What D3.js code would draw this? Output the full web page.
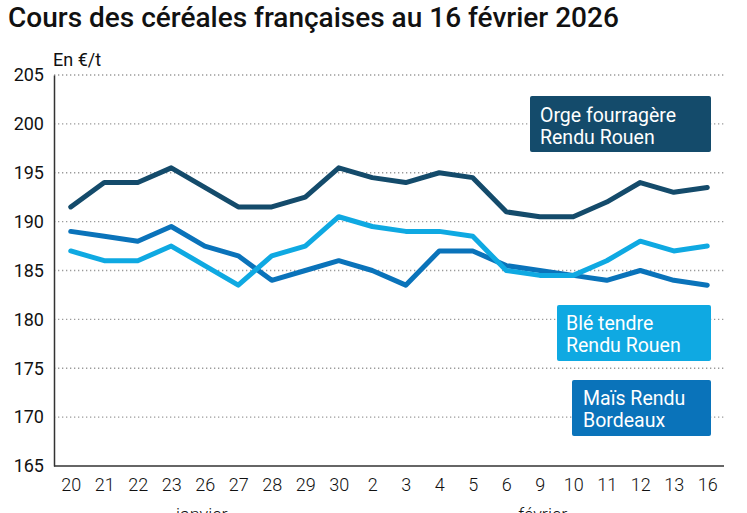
<!DOCTYPE html>
<html><head><meta charset="utf-8">
<script src="https://cdn.jsdelivr.net/npm/d3@7"></script>
<style>body{margin:0;background:#fff;font-family:Roboto,"Noto Sans",sans-serif}</style>
</head><body><svg id="c" width="747" height="513"></svg>
<script>
const dates = ["20","21","22","23","26","27","28","29","30","2","3","4","5","6","9","10","11","12","13","16"];
const orge = [191.5,194,194,195.5,193.5,191.5,191.5,192.5,195.5,194.5,194,195,194.5,191,190.5,190.5,192,194,193,193.5];
const ble  = [187,186,186,187.5,185.5,183.5,186.5,187.5,190.5,189.5,189,189,188.5,185,184.5,184.5,186,188,187,187.5];
const mais = [189,188.5,188,189.5,187.5,186.5,184,185,186,185,183.5,187,187,185.5,185,184.5,184,185,184,183.5];
const yTicks = [165,170,175,180,185,190,195,200,205];
const months = ["janvier","février"];
const seriesNames = [["Orge fourragère","Rendu Rouen"],["Blé tendre","Rendu Rouen"],["Maïs Rendu","Bordeaux"]];
const colors = ["#144b6b","#0fa9e2","#0a73ba"];

const svg = d3.select("#c");
const L=54,R=724,T=75,B=466;
const x = d3.scalePoint().domain(d3.range(dates.length)).range([L,R]).padding(0.5);
const y = d3.scaleLinear().domain([165,205]).range([B,T]);

svg.append("text").attr("x",8).attr("y",27).attr("font-size",28).attr("font-weight",500)
  .attr("fill","#111").text("Cours des céréales françaises au 16 février 2026");
svg.append("text").attr("x",53).attr("y",66).attr("font-size",18).attr("fill","#111").text("En €/t");

// gridlines
svg.append("g").selectAll("line").data(yTicks.filter(d=>d>165)).join("line")
  .attr("x1",L).attr("x2",R).attr("y1",d=>y(d)).attr("y2",d=>y(d))
  .attr("stroke","#9a9a9a").attr("stroke-width",1.3).attr("stroke-dasharray","1.3,2.7");

// y axis
const ya = svg.append("g").attr("transform",`translate(${L},0)`)
  .call(d3.axisLeft(y).tickValues(yTicks).tickSize(0).tickPadding(10));
ya.select(".domain").attr("stroke","#333").attr("stroke-width",1.5);
ya.selectAll("text").attr("font-size",18).attr("font-family","Roboto").attr("fill","#111");

// x axis
const xa = svg.append("g").attr("transform",`translate(0,${B})`)
  .call(d3.axisBottom(x).tickFormat(i=>dates[i]).tickSize(0).tickPadding(12));
xa.select(".domain").attr("stroke","#333").attr("stroke-width",1.5).attr("d",`M${L},0H${R}`);
xa.selectAll("text").attr("font-size",18).attr("font-family","Roboto").attr("font-weight",300).attr("fill","#111");

svg.append("text").attr("x",x(4)-3).attr("y",521).attr("text-anchor","middle")
  .attr("font-size",18).attr("font-weight",300).attr("fill","#111").text(months[0]);
svg.append("text").attr("x",x(14)+3).attr("y",521).attr("text-anchor","middle")
  .attr("font-size",18).attr("font-weight",300).attr("fill","#111").text(months[1]);

const line = d3.line().x((d,i)=>x(i)).y(d=>y(d));
[orge,mais,ble].forEach((s,k)=>{
  const c = [colors[0],colors[2],colors[1]][k];
  svg.append("path").datum(s).attr("d",line).attr("fill","none").attr("stroke",c)
    .attr("stroke-width",5).attr("stroke-linejoin","round").attr("stroke-linecap","round");
});

// legend boxes
const boxes = [
  {x0:530,y0:96,x1:711,y1:152,tx:540,b1:122,b2:144},
  {x0:557,y0:305,x1:711,y1:361,tx:566,b1:330,b2:352},
  {x0:572,y0:380,x1:711,y1:436,tx:583,b1:405,b2:427}
];
boxes.forEach((b,k)=>{
  svg.append("rect").attr("x",b.x0).attr("y",b.y0).attr("width",b.x1-b.x0).attr("height",b.y1-b.y0)
    .attr("rx",2).attr("fill",colors[k]);
  svg.append("text").attr("x",b.tx).attr("y",b.b1).attr("font-size",19.5).attr("fill","#fff").text(seriesNames[k][0]);
  svg.append("text").attr("x",b.tx).attr("y",b.b2).attr("font-size",19.5).attr("fill","#fff").text(seriesNames[k][1]);
});
</script></body></html>
